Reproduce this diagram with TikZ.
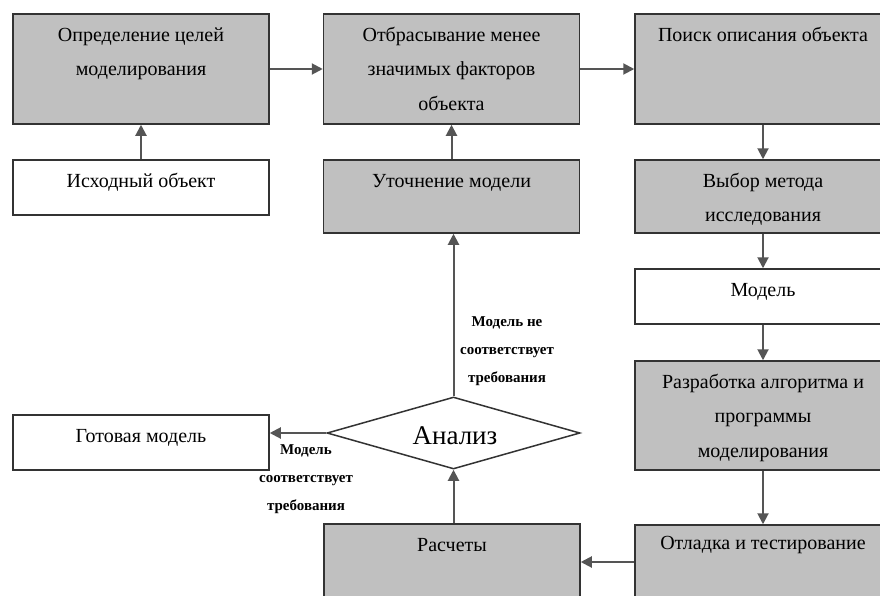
\documentclass[tikz,border=0pt]{standalone}
\usepackage{fontspec}
\setmainfont{Liberation Serif}
\usetikzlibrary{arrows.meta,shapes.geometric}
\definecolor{boxgray}{HTML}{C0C0C0}
\definecolor{edge}{HTML}{333333}
\definecolor{wire}{HTML}{555555}
\tikzset{
  gbox/.style={draw=edge, line width=1.5pt, fill=boxgray, rectangle, inner sep=0pt, minimum width=256pt},
  wbox/.style={draw=edge, line width=1.5pt, fill=white, rectangle, inner sep=0pt, minimum width=256pt},
  txt/.style={anchor=north, align=center, inner sep=0pt, font=\fontsize{20pt}{34.5pt}\selectfont},
  lbl/.style={align=center, inner sep=0pt, font=\fontsize{15pt}{28pt}\selectfont\bfseries},
  conn/.style={draw=wire, line width=2pt, -{Triangle[length=11pt,width=11pt]}},
}
\begin{document}
\begin{tikzpicture}[x=1pt,y=-1pt]
\useasboundingbox (0,0) rectangle (880,595);
\clip (0,0) rectangle (880,595);
\fill[white] (0,0) rectangle (880,595);
% boxes
\node[gbox, minimum height=110pt] (goal) at (141,69) {};
\node[gbox, minimum height=110pt] (drop) at (451.5,69) {};
\node[gbox, minimum height=110pt] (search) at (763,69) {};
\node[wbox, minimum height=55pt] (src) at (141,187.5) {};
\node[gbox, minimum height=73pt] (refine) at (451.5,196.5) {};
\node[gbox, minimum height=73pt] (method) at (763,196.5) {};
\node[wbox, minimum height=55pt] (model) at (763,296.5) {};
\node[gbox, minimum height=109pt] (dev) at (763,415.5) {};
\node[gbox, minimum height=75pt] (debug) at (763,562.5) {};
\node[gbox, minimum height=76pt] (calc) at (452,562) {};
\node[wbox, minimum height=55pt] (ready) at (141,442.5) {};
\node[draw=edge, line width=1.5pt, fill=white, diamond, inner sep=0pt, minimum width=253pt, minimum height=72pt, aspect=3.5] (an) at (453.5,433) {};
% texts
\node[txt] (tgoal) at ([yshift=-3.5pt]goal.north) {\strut Определение целей\\моделирования};
\node[txt] (tdrop) at ([yshift=-3.5pt]drop.north) {\strut Отбрасывание менее\\значимых факторов\\объекта};
\node[txt] (tsearch) at ([yshift=-3.5pt]search.north) {\strut Поиск описания объекта};
\node[txt] (tsrc) at ([yshift=-3.5pt]src.north) {\strut Исходный объект};
\node[txt] (trefine) at ([yshift=-3.5pt]refine.north) {\strut Уточнение модели};
\node[txt] (tmethod) at ([yshift=-3.5pt]method.north) {\strut Выбор метода\\исследования};
\node[txt] (tmodel) at ([yshift=-3.5pt]model.north) {\strut Модель};
\node[txt] (tdev) at ([yshift=-3.5pt]dev.north) {\strut Разработка алгоритма и\\программы\\моделирования};
\node[txt] (tdebug) at ([yshift=-1pt]debug.north) {\strut Отладка и тестирование};
\node[txt] (tcalc) at ([yshift=-3.5pt]calc.north) {\strut Расчеты};
\node[txt] (tready) at ([yshift=-3.5pt]ready.north) {\strut Готовая модель};
\node[inner sep=0pt, font=\fontsize{27pt}{30pt}\selectfont] (tan) at (455,436) {Анализ};
% connectors
\draw[conn] (src.north) -- (goal.south);
\draw[conn] (goal.east) -- (drop.west);
\draw[conn] (drop.east) -- (search.west);
\draw[conn] (refine.north) -- (drop.south -| refine.north);
\draw[conn] (search.south) -- (method.north);
\draw[conn] (method.south) -- (model.north);
\draw[conn] (model.south) -- (dev.north);
\draw[conn] (dev.south) -- (debug.north);
\draw[conn] (debug.west |- calc.east) -- (calc.east);
\draw[conn] (calc.north -| an.south) -- (an.south);
\draw[conn] (an.north) -- (an.north |- refine.south);
\draw[conn] (an.west) -- (ready.east |- an.west);
% labels
\node[lbl] (lno) at (507,351) {Модель не\\соответствует\\требования};
\node[lbl] (lyes) at (306,479) {Модель\\соответствует\\требования};
\end{tikzpicture}
\end{document}
